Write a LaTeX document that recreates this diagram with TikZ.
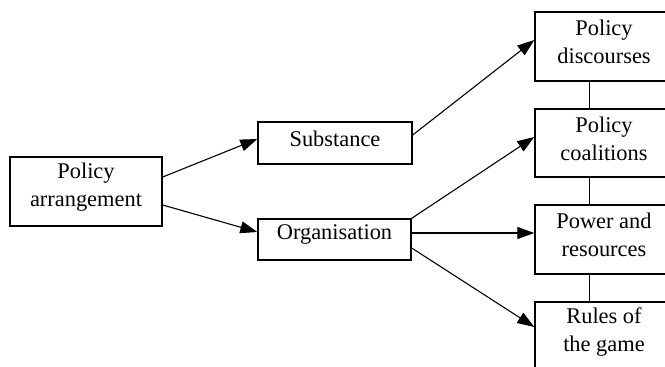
\documentclass[tikz,border=0pt]{standalone}
\usepackage{fontspec}
\setmainfont{Liberation Serif}
\usetikzlibrary{arrows.meta}
\begin{document}
\begin{tikzpicture}[x=1pt,y=-1pt,
  box/.style={draw,line width=1.4pt,align=center,inner sep=0pt,text depth=9pt,
    font=\fontsize{22.4}{28}\selectfont},
  boxg/.style={box,text depth=14pt},
  arr/.style={line width=1.1pt,-{Triangle[length=17pt,width=12pt]}},
  link/.style={line width=1.4pt}]
\useasboundingbox (0,0) rectangle (665,367);
\clip (0,0) rectangle (665,367);
\node[boxg,minimum width=152pt,minimum height=69pt] (pa) at (86,191.5) {Policy\\arrangement};
\node[box,minimum width=154pt,minimum height=42pt] (sub) at (335,143) {Substance};
\node[boxg,minimum width=153pt,minimum height=41pt] (org) at (334.5,239.5) {Organisation};
\node[box,minimum width=138pt,minimum height=69pt] (pd) at (604,46.5) {Policy\\discourses};
\node[box,minimum width=138pt,minimum height=68pt] (pc) at (604,143) {Policy\\coalitions};
\node[box,minimum width=138pt,minimum height=69pt] (pr) at (604,239.5) {Power and\\resources};
\node[boxg,minimum width=138pt,minimum height=69pt] (rg) at (604,336.5) {Rules of\\the game};
\draw[link] ([xshift=55pt]pd.south west) -- ([xshift=55pt]pc.north west);
\draw[link] ([xshift=55pt]pc.south west) -- ([xshift=55pt]pr.north west);
\draw[link] ([xshift=55pt]pr.south west) -- ([xshift=55pt]rg.north west);
\draw[arr] ([yshift=14.5pt]pa.east) -- ([yshift=4pt]sub.west);
\draw[arr] ([yshift=-13.5pt]pa.east) -- ([yshift=7.5pt]org.west);
\draw[arr] ([yshift=8pt]sub.east) -- ([yshift=6.5pt]pd.west);
\draw[arr] (org.north east) -- ([yshift=6pt]pc.west);
\draw[arr] ([yshift=6.5pt]org.east) -- ([yshift=6.5pt]pr.west);
\draw[arr] ([yshift=-8.5pt]org.east) -- ([yshift=9.5pt]rg.west);
\end{tikzpicture}
\end{document}
